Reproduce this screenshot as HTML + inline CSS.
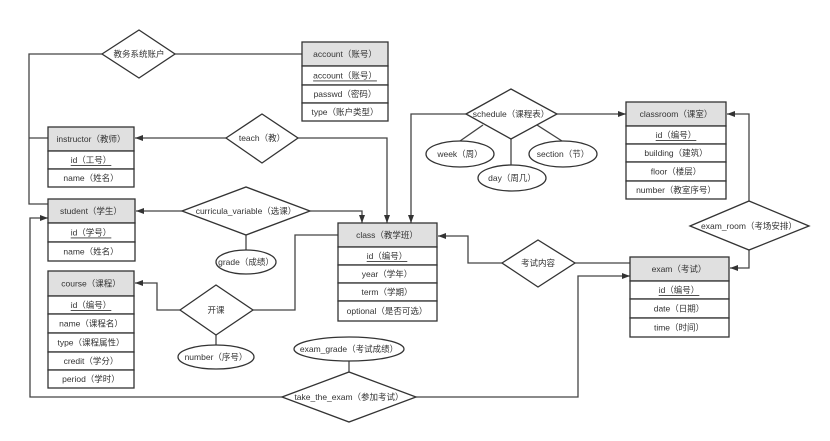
<!DOCTYPE html>
<html><head><meta charset="utf-8"><style>
html,body{margin:0;padding:0;background:#fff;}
svg{display:block;}
text{font-family:"Liberation Sans","Noto Sans CJK SC",sans-serif;font-size:8.5px;fill:#333;text-anchor:middle;dominant-baseline:central;}
.b{fill:#fff;stroke:#333;stroke-width:1.3;}
.h{fill:#e0e0e0;stroke:#333;stroke-width:1.3;}
.l{fill:none;stroke:#444;stroke-width:1.3;}
</style></head><body>
<svg width="830" height="441" viewBox="0 0 830 441" xmlns="http://www.w3.org/2000/svg">
<defs><marker id="a" markerWidth="8" markerHeight="8" refX="8" refY="4" orient="auto" markerUnits="userSpaceOnUse"><path d="M0,1 L8,4 L0,7 z" fill="#333"/></marker></defs>

<!-- connectors -->
<polyline class="l" points="102,54 29,54 29,204 48,204"/>
<line class="l" x1="29" y1="138" x2="48" y2="138"/>
<line class="l" x1="175" y1="54" x2="302" y2="54"/>
<line class="l" x1="226" y1="138" x2="135" y2="138" marker-end="url(#a)"/>
<polyline class="l" points="298,138 387,138 387,223" marker-end="url(#a)"/>
<line class="l" x1="182" y1="211" x2="136" y2="211" marker-end="url(#a)"/>
<polyline class="l" points="310,211 362,211 362,223" marker-end="url(#a)"/>
<line class="l" x1="246" y1="235" x2="246" y2="250"/>
<polyline class="l" points="180,310 157,310 157,283 135,283" marker-end="url(#a)"/>
<polyline class="l" points="253,310 295,310 295,235 338,235"/>
<line class="l" x1="216" y1="335" x2="216" y2="345"/>
<line class="l" x1="349" y1="360" x2="349" y2="372"/>
<polyline class="l" points="282,397 30,397 30,218 48,218" marker-end="url(#a)"/>
<polyline class="l" points="416,397 578,397 578,276 630,276" marker-end="url(#a)"/>
<line class="l" x1="575" y1="263" x2="630" y2="263"/>
<polyline class="l" points="502,263 468,263 468,236 438,236" marker-end="url(#a)"/>
<polyline class="l" points="466,114 411,114 411,223" marker-end="url(#a)"/>
<line class="l" x1="557" y1="114" x2="626" y2="114" marker-end="url(#a)"/>
<line class="l" x1="483" y1="125" x2="460" y2="141"/>
<line class="l" x1="537" y1="125" x2="562" y2="141"/>
<line class="l" x1="511" y1="139" x2="511" y2="165"/>
<polyline class="l" points="749,201 749,114 727,114" marker-end="url(#a)"/>
<polyline class="l" points="749,250 749,268 730,268" marker-end="url(#a)"/>

<!-- diamonds -->
<polygon class="b" points="102,54 139,30 175,54 139,78"/><text x="139" y="54">教务系统账户</text>
<polygon class="b" points="226,138 262,114 298,138 262,163"/><text x="262" y="138">teach（教）</text>
<polygon class="b" points="182,211 246,187 310,211 246,235"/><text x="246" y="211">curricula_variable（选课）</text>
<polygon class="b" points="180,310 216,285 253,310 216,335"/><text x="216" y="310">开课</text>
<polygon class="b" points="282,397 349,372 416,397 349,422"/><text x="349" y="397">take_the_exam（参加考试）</text>
<polygon class="b" points="502,263 538,240 575,263 538,287"/><text x="538" y="263">考试内容</text>
<polygon class="b" points="466,114 511,89 557,114 511,139"/><text x="511" y="114">schedule（课程表）</text>
<polygon class="b" points="690,226 749,201 809,226 749,250"/><text x="749" y="226">exam_room（考场安排）</text>

<!-- ellipses -->
<ellipse class="b" cx="246" cy="262" rx="30" ry="12"/><text x="246" y="262">grade（成绩）</text>
<ellipse class="b" cx="216" cy="357" rx="38" ry="12"/><text x="216" y="357">number（序号）</text>
<ellipse class="b" cx="349" cy="349" rx="55" ry="12"/><text x="349" y="349">exam_grade（考试成绩）</text>
<ellipse class="b" cx="460" cy="154" rx="34" ry="13"/><text x="460" y="154">week（周）</text>
<ellipse class="b" cx="563" cy="154" rx="34" ry="13"/><text x="563" y="154">section（节）</text>
<ellipse class="b" cx="512" cy="178" rx="34" ry="13"/><text x="512" y="178">day（周几）</text>

<!-- account -->
<rect class="h" x="302" y="42" width="86" height="24"/><text x="345" y="54">account（账号）</text>
<rect class="b" x="302" y="66" width="86" height="19"/><text x="345" y="75.5" text-decoration="underline">account（账号）</text>
<rect class="b" x="302" y="85" width="86" height="18"/><text x="345" y="94">passwd（密码）</text>
<rect class="b" x="302" y="103" width="86" height="18"/><text x="345" y="112">type（账户类型）</text>

<!-- instructor -->
<rect class="h" x="48" y="127" width="86" height="24"/><text x="91" y="139">instructor（教师）</text>
<rect class="b" x="48" y="151" width="86" height="18"/><text x="91" y="160" text-decoration="underline">id（工号）</text>
<rect class="b" x="48" y="169" width="86" height="18"/><text x="91" y="178">name（姓名）</text>

<!-- student -->
<rect class="h" x="48" y="199" width="87" height="24"/><text x="91" y="211">student（学生）</text>
<rect class="b" x="48" y="223" width="87" height="19"/><text x="91" y="232.5" text-decoration="underline">id（学号）</text>
<rect class="b" x="48" y="242" width="87" height="19"/><text x="91" y="251.5">name（姓名）</text>

<!-- course -->
<rect class="h" x="48" y="271" width="86" height="25"/><text x="91" y="283.5">course（课程）</text>
<rect class="b" x="48" y="296" width="86" height="18"/><text x="91" y="305" text-decoration="underline">id（编号）</text>
<rect class="b" x="48" y="314" width="86" height="19"/><text x="91" y="323.5">name（课程名）</text>
<rect class="b" x="48" y="333" width="86" height="19"/><text x="91" y="342.5">type（课程属性）</text>
<rect class="b" x="48" y="352" width="86" height="18"/><text x="91" y="361">credit（学分）</text>
<rect class="b" x="48" y="370" width="86" height="18"/><text x="91" y="379">period（学时）</text>

<!-- class -->
<rect class="h" x="338" y="223" width="99" height="24"/><text x="387" y="235">class（教学班）</text>
<rect class="b" x="338" y="247" width="99" height="18"/><text x="387" y="256" text-decoration="underline">id（编号）</text>
<rect class="b" x="338" y="265" width="99" height="18"/><text x="387" y="274">year（学年）</text>
<rect class="b" x="338" y="283" width="99" height="18"/><text x="387" y="292">term（学期）</text>
<rect class="b" x="338" y="301" width="99" height="20"/><text x="387" y="311">optional（是否可选）</text>

<!-- classroom -->
<rect class="h" x="626" y="102" width="100" height="24"/><text x="676" y="114">classroom（课室）</text>
<rect class="b" x="626" y="126" width="100" height="18"/><text x="676" y="135" text-decoration="underline">id（编号）</text>
<rect class="b" x="626" y="144" width="100" height="18"/><text x="676" y="153">building（建筑）</text>
<rect class="b" x="626" y="162" width="100" height="19"/><text x="676" y="171.5">floor（楼层）</text>
<rect class="b" x="626" y="181" width="100" height="18"/><text x="676" y="190">number（教室序号）</text>

<!-- exam -->
<rect class="h" x="630" y="257" width="99" height="24"/><text x="679" y="269">exam（考试）</text>
<rect class="b" x="630" y="281" width="99" height="18"/><text x="679" y="290" text-decoration="underline">id（编号）</text>
<rect class="b" x="630" y="299" width="99" height="19"/><text x="679" y="308.5">date（日期）</text>
<rect class="b" x="630" y="318" width="99" height="19"/><text x="679" y="327.5">time（时间）</text>
</svg>
</body></html>
